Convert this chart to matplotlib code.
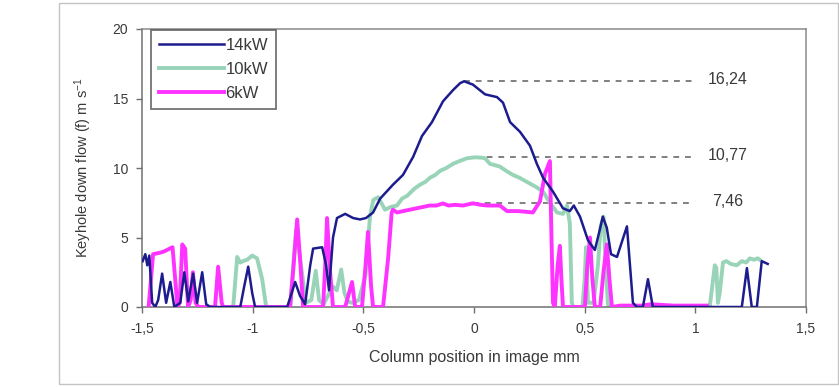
import matplotlib
matplotlib.use("Agg")
import matplotlib.pyplot as plt
from matplotlib.patches import Rectangle

plt.rcParams["font.family"] = ["Liberation Sans", "DejaVu Sans"]
plt.rcParams["mathtext.fontset"] = "custom"
plt.rcParams["mathtext.rm"] = "Liberation Sans"
plt.rcParams["mathtext.it"] = "Liberation Sans:italic"

# Keyhole down flow profiles, (column position mm, flow m/s)
flow_14kw = [
    (-1.497, 3.3), (-1.485, 3.8), (-1.476, 3.0), (-1.467, 3.7), (-1.454, 0.3),
    (-1.440, 0.0), (-1.427, 0.5), (-1.409, 2.4), (-1.391, 0.3), (-1.372, 1.8),
    (-1.354, 0.0), (-1.327, 0.3), (-1.309, 2.5), (-1.291, 0.4), (-1.269, 2.4),
    (-1.251, 0.3), (-1.228, 2.5), (-1.210, 0.2), (-1.192, 0.0), (-1.056, 0.0),
    (-1.038, 1.5), (-1.020, 2.9), (-1.002, 1.0), (-0.989, 0.0), (-0.844, 0.0),
    (-0.808, 1.8), (-0.786, 0.8), (-0.763, 0.2), (-0.740, 3.0), (-0.727, 4.2),
    (-0.686, 4.3), (-0.668, 3.0), (-0.655, 1.2), (-0.637, 5.0), (-0.619, 6.4),
    (-0.582, 6.7), (-0.546, 6.4), (-0.515, 6.3), (-0.488, 6.4), (-0.456, 6.8),
    (-0.424, 7.8), (-0.366, 8.8), (-0.321, 9.5), (-0.275, 10.8), (-0.235, 12.3),
    (-0.190, 13.3), (-0.140, 14.8), (-0.095, 15.6), (-0.063, 16.1), (-0.045, 16.24),
    (-0.005, 16.0), (0.050, 15.3), (0.104, 15.1), (0.131, 14.7), (0.163, 13.3),
    (0.208, 12.6), (0.253, 11.6), (0.284, 10.3), (0.312, 9.3), (0.357, 8.3),
    (0.402, 7.1), (0.433, 6.9), (0.451, 7.3), (0.479, 6.5), (0.515, 4.8),
    (0.546, 4.1), (0.569, 5.6), (0.582, 6.5), (0.600, 5.7), (0.619, 3.8),
    (0.646, 3.6), (0.691, 5.8), (0.718, 0.3), (0.736, 0.0), (0.763, 0.0),
    (0.786, 2.0), (0.808, 0.0), (1.210, 0.0), (1.233, 2.8), (1.255, 0.0),
    (1.278, 0.0), (1.300, 3.3), (1.327, 3.1),
]

flow_10kw = [
    (-1.088, 0.0), (-1.070, 3.6), (-1.056, 3.2), (-1.043, 3.3), (-1.025, 3.4),
    (-1.002, 3.7), (-0.980, 3.5), (-0.957, 2.0), (-0.939, 0.0), (-0.830, 0.0),
    (-0.812, 4.0), (-0.803, 5.6), (-0.790, 4.0), (-0.775, 2.2), (-0.760, 0.3),
    (-0.735, 0.5), (-0.715, 2.6), (-0.700, 0.5), (-0.680, 0.2), (-0.660, 0.8),
    (-0.640, 1.5), (-0.620, 1.2), (-0.600, 2.7), (-0.585, 1.0), (-0.570, 0.4),
    (-0.550, 0.3), (-0.520, 0.5), (-0.490, 2.3), (-0.470, 6.5), (-0.455, 7.7),
    (-0.433, 7.9), (-0.402, 7.0), (-0.375, 7.2), (-0.348, 7.3), (-0.325, 7.8),
    (-0.302, 8.0), (-0.270, 8.5), (-0.244, 8.8), (-0.220, 9.0), (-0.199, 9.3),
    (-0.175, 9.5), (-0.153, 9.8), (-0.125, 10.0), (-0.095, 10.3), (-0.065, 10.5),
    (-0.032, 10.7), (0.005, 10.77), (0.030, 10.75), (0.050, 10.7), (0.072, 10.3),
    (0.095, 10.2), (0.117, 10.1), (0.145, 9.8), (0.176, 9.5), (0.205, 9.3),
    (0.239, 9.0), (0.262, 8.8), (0.284, 8.6), (0.312, 8.3), (0.343, 7.5),
    (0.375, 6.8), (0.402, 6.7), (0.420, 7.3), (0.433, 6.0), (0.442, 0.3),
    (0.450, 0.0), (0.490, 0.0), (0.500, 2.0), (0.506, 4.3), (0.515, 0.3),
    (0.540, 0.3), (0.560, 3.0), (0.572, 5.8), (0.585, 6.5), (0.595, 3.0),
    (0.605, 0.2), (0.612, 0.0), (1.065, 0.0), (1.088, 3.0), (1.095, 2.8),
    (1.102, 0.3), (1.110, 1.0), (1.125, 3.2), (1.140, 3.3), (1.160, 3.1),
    (1.187, 3.0), (1.210, 3.3), (1.230, 3.2), (1.246, 3.5), (1.265, 3.4),
    (1.282, 3.5), (1.291, 3.4),
]

flow_6kw = [
    (-1.470, 0.0), (-1.450, 3.8), (-1.420, 3.9), (-1.400, 4.0), (-1.375, 4.2),
    (-1.362, 4.3), (-1.350, 2.0), (-1.340, 0.0), (-1.330, 0.3), (-1.318, 4.5),
    (-1.305, 4.2), (-1.292, 0.0), (-1.280, 0.5), (-1.270, 2.5), (-1.258, 0.3),
    (-1.245, 0.0), (-1.170, 0.0), (-1.156, 2.9), (-1.140, 0.3), (-1.133, 0.0),
    (-0.831, 0.0), (-0.815, 3.0), (-0.799, 6.3), (-0.786, 3.5), (-0.772, 0.0),
    (-0.682, 0.0), (-0.672, 3.0), (-0.664, 6.4), (-0.650, 2.5), (-0.637, 0.0),
    (-0.582, 0.0), (-0.551, 1.8), (-0.537, 0.0), (-0.506, 0.0), (-0.490, 3.0),
    (-0.479, 5.4), (-0.465, 1.5), (-0.456, 0.0), (-0.411, 0.0), (-0.388, 3.5),
    (-0.372, 6.8), (-0.366, 7.0), (-0.348, 6.8), (-0.320, 6.9), (-0.290, 7.0),
    (-0.260, 7.1), (-0.230, 7.2), (-0.200, 7.3), (-0.170, 7.3), (-0.140, 7.45),
    (-0.115, 7.3), (-0.085, 7.35), (-0.050, 7.3), (-0.005, 7.46), (0.030, 7.35),
    (0.060, 7.3), (0.090, 7.3), (0.117, 7.3), (0.149, 6.9), (0.200, 6.9),
    (0.266, 6.8), (0.298, 7.6), (0.321, 9.6), (0.343, 10.5), (0.350, 5.0),
    (0.357, 0.3), (0.365, 0.0), (0.378, 3.0), (0.388, 4.4), (0.395, 2.0),
    (0.402, 0.0), (0.501, 0.0), (0.512, 3.0), (0.524, 5.0), (0.535, 2.0),
    (0.546, 0.0), (0.570, 0.0), (0.585, 2.5), (0.600, 4.5), (0.612, 2.0),
    (0.623, 0.0), (0.660, 0.1), (0.760, 0.1), (0.800, 0.2), (0.900, 0.1),
    (1.000, 0.1), (1.052, 0.1),
]

# Peak values marked with dashed guide lines: (start x, value, label)
peaks = [(-0.045, 16.24, "16,24"), (0.005, 10.77, "10,77"), (-0.005, 7.46, "7,46")]

x_ticks = [-1.5, -1.0, -0.5, 0.0, 0.5, 1.0, 1.5]
x_tick_labels = ["-1,5", "-1", "-0,5", "0", "0,5", "1", "1,5"]
y_ticks = [0, 5, 10, 15, 20]

c14, c10, c6 = "#1c1c8e", "#99d4b8", "#ff33ff"
text_col = "#3a3a3a"

fig = plt.figure(figsize=(8.39, 3.87), dpi=100)
fig.patches.append(Rectangle((59 / 839, 1 - 384 / 387), (838 - 59) / 839, (384 - 3) / 387,
                             transform=fig.transFigure, fill=False,
                             edgecolor="#c4c4c4", linewidth=1.0))
ax = fig.add_axes([142 / 839, 1 - 307 / 387, (806 - 142) / 839, (307 - 29) / 387])


def split(series):
    return [p[0] for p in series], [p[1] for p in series]


x10, y10 = split(flow_10kw)
x6, y6 = split(flow_6kw)
x14, y14 = split(flow_14kw)
l10, = ax.plot(x10, y10, color=c10, lw=2.8, zorder=2, solid_joinstyle="round")
l6, = ax.plot(x6, y6, color=c6, lw=2.8, zorder=3, solid_joinstyle="round")
l14, = ax.plot(x14, y14, color=c14, lw=1.8, zorder=4, solid_joinstyle="round")

for x0, val, lab in peaks:
    ax.plot([x0, 0.99], [val, val], color="#808080", lw=1.4,
            linestyle=(0, (3.0, 3.0)), zorder=1)
    ax.text(1.145, val + 0.1, lab, ha="center", va="center", fontsize=11.5,
            color=text_col)

ax.set_xlim(-1.5, 1.5)
ax.set_ylim(0, 20)
ax.set_xticks(x_ticks)
ax.set_xticklabels(x_tick_labels)
ax.set_yticks(y_ticks)
ax.tick_params(axis="both", direction="out", length=4, width=1, color="#707070",
               labelsize=10, labelcolor=text_col)
ax.tick_params(axis="y", pad=6)
ax.tick_params(axis="x", pad=7)
for s in ax.spines.values():
    s.set_color("#8a8a8a")
    s.set_linewidth(1.1)
ax.spines["left"].set_color("#707070")
ax.spines["bottom"].set_color("#707070")

ax.set_xlabel("Column position in image mm", fontsize=11.5, color=text_col)
ax.xaxis.set_label_coords(0.5, -0.155)
ax.set_ylabel(r"Keyhole down flow (f) m s$^{-1}$", fontsize=10.5, color=text_col)
ax.yaxis.set_label_coords(-0.072, 0.5)

leg = ax.legend([l14, l10, l6], ["14kW", "10kW", "6kW"], loc="upper left",
                bbox_to_anchor=(0.014, 0.995), borderaxespad=0, fontsize=12,
                frameon=True, fancybox=False, handlelength=3.9, handletextpad=0.1,
                labelspacing=0.55, borderpad=0.45)
leg.get_frame().set_edgecolor("#505050")
leg.get_frame().set_linewidth(1.3)
for t in leg.get_texts():
    t.set_color(text_col)

fig.savefig("out.png", dpi=100)
